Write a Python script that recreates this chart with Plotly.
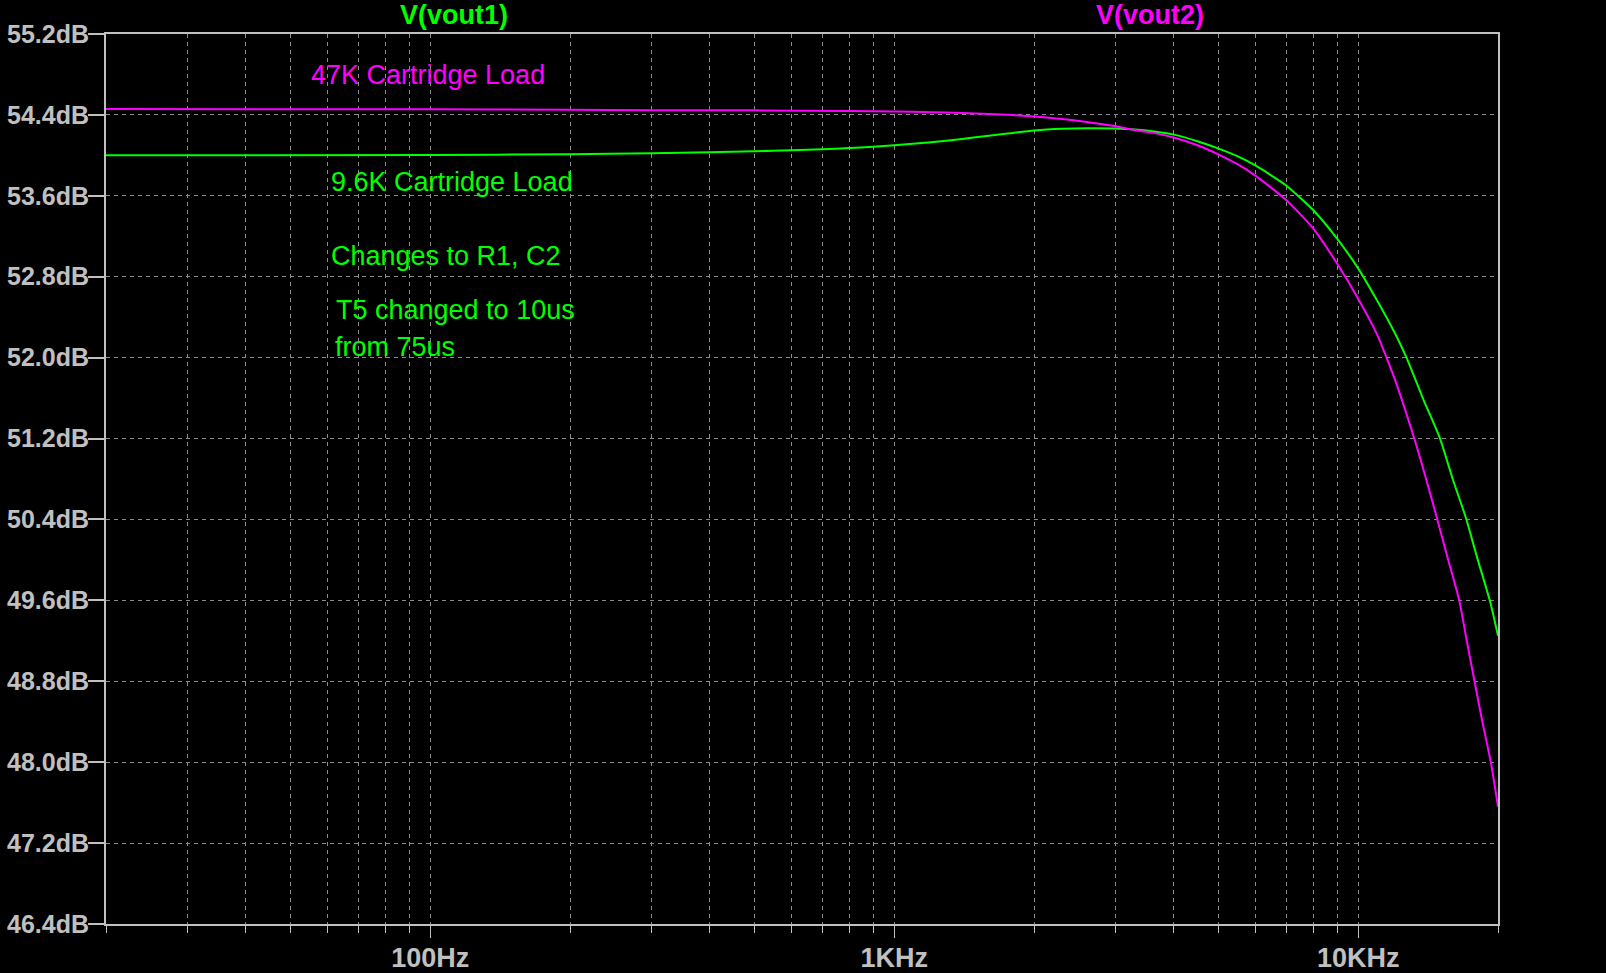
import plotly.graph_objects as go

# ---- data ----
freq_vout1 = [20, 100, 200, 300, 400, 500, 600, 700, 800, 900, 1000, 1200, 1400, 1600, 1800,
              2000, 2300, 2600, 3000, 3300, 3600, 4000, 4500, 5000, 5500, 6000, 7000, 8000,
              9000, 10000, 11000, 12000, 12700, 13800, 15000, 16000, 17100, 18000, 19200, 20000]
db_vout1 = [54.000, 54.003, 54.012, 54.022, 54.031, 54.040, 54.050, 54.060, 54.072, 54.085,
            54.100, 54.130, 54.162, 54.195, 54.222, 54.245, 54.262, 54.268, 54.265, 54.255,
            54.238, 54.205, 54.140, 54.067, 53.990, 53.900, 53.700, 53.457, 53.177, 52.880,
            52.557, 52.238, 52.000, 51.590, 51.200, 50.790, 50.400, 50.035, 49.600, 49.250]

freq_vout2 = [20, 100, 200, 300, 500, 800, 1000, 1200, 1400, 1600, 1800, 2000, 2300, 2600,
              3000, 3300, 3600, 4000, 4500, 5000, 5500, 6000, 7000, 8000, 9000, 10000, 11000,
              11500, 12000, 13200, 14000, 14800, 15600, 16500, 17100, 17800, 18500, 19300, 20000]
db_vout2 = [54.458, 54.455, 54.452, 54.446, 54.445, 54.438, 54.433, 54.427, 54.418, 54.408,
            54.398, 54.385, 54.360, 54.330, 54.287, 54.250, 54.225, 54.176, 54.100, 54.008,
            53.910, 53.800, 53.556, 53.276, 52.930, 52.580, 52.220, 52.000, 51.780, 51.200,
            50.800, 50.400, 50.010, 49.600, 49.220, 48.800, 48.405, 48.000, 47.560]

y_ticks = [46.4, 47.2, 48.0, 48.8, 49.6, 50.4, 51.2, 52.0, 52.8, 53.6, 54.4, 55.2]
y_ticktext = [f"{v:.1f}dB" for v in y_ticks]
x_major = [100, 1000, 10000]
x_major_text = ["100Hz", "1KHz", "10KHz"]
x_minor = [20, 30, 40, 50, 60, 70, 80, 90, 200, 300, 400, 500, 600, 700, 800, 900,
           2000, 3000, 4000, 5000, 6000, 7000, 8000, 9000, 20000]

trace_names = ["V(vout1)", "V(vout2)"]
notes = ["47K Cartridge Load", "9.6K Cartridge Load", "Changes to R1, C2",
         "T5 changed to 10us", "from 75us"]

# ---- style / layout ----
GREEN = "#00ff00"
MAGENTA = "#ff00ff"
AXIS = "#c0c0c0"
GRID = "#8a8a8a"
W, H = 1606, 973
L, R, T, B = 106, 1498, 34, 924
pw, ph = R - L, B - T

def px(x):
    return (x - L) / pw

def py(y):
    return (B - y) / ph

fig = go.Figure()
fig.add_trace(go.Scatter(x=freq_vout1, y=db_vout1, mode="lines", name=trace_names[0],
                         line=dict(color=GREEN, width=2, shape="spline", smoothing=0.6)))
fig.add_trace(go.Scatter(x=freq_vout2, y=db_vout2, mode="lines", name=trace_names[1],
                         line=dict(color=MAGENTA, width=2, shape="spline", smoothing=0.6)))

xtickfont = dict(family="Liberation Sans", size=27, color=AXIS, weight="bold")
ytickfont = dict(family="Liberation Sans", size=25, color=AXIS, weight="bold")

fig.update_xaxes(
    type="log", range=[1.30103, 4.30103],
    tickmode="array", tickvals=x_major, ticktext=x_major_text,
    ticks="outside", ticklen=12, tickwidth=1, tickcolor=AXIS,
    tickfont=xtickfont, ticklabelstandoff=-3,
    showline=True, linecolor=AXIS, linewidth=2, mirror=True,
    showgrid=True, gridcolor=GRID, gridwidth=1, griddash="4px,4px",
    zeroline=False, automargin=False,
    minor=dict(tickmode="array", tickvals=x_minor, ticks="outside", ticklen=7,
               tickwidth=1, tickcolor=AXIS, showgrid=True, gridcolor=GRID,
               gridwidth=1, griddash="4px,4px"),
)
fig.update_yaxes(
    range=[46.4, 55.2],
    tickmode="array", tickvals=y_ticks, ticktext=y_ticktext,
    ticks="outside", ticklen=16, tickwidth=2, tickcolor=AXIS,
    tickfont=ytickfont, ticklabelstandoff=-6,
    showline=True, linecolor=AXIS, linewidth=2, mirror=True,
    showgrid=True, gridcolor=GRID, gridwidth=1, griddash="4px,4px",
    zeroline=False, automargin=False,
)

title_font = dict(family="Liberation Sans", size=27, weight="bold")
annotations = [
    dict(text=trace_names[0], x=0.25, y=py(15), xref="paper", yref="paper",
         xanchor="center", yanchor="middle", showarrow=False,
         font=dict(color=GREEN, **title_font)),
    dict(text=trace_names[1], x=0.75, y=py(15), xref="paper", yref="paper",
         xanchor="center", yanchor="middle", showarrow=False,
         font=dict(color=MAGENTA, **title_font)),
]
note_pos = [(309, 75, MAGENTA), (329, 182, GREEN), (329, 256, GREEN),
            (334, 310, GREEN), (333, 347, GREEN)]
for txt, (nx, ny, col) in zip(notes, note_pos):
    annotations.append(dict(text=txt, x=px(nx), y=py(ny), xref="paper", yref="paper",
                            xanchor="left", yanchor="middle", showarrow=False,
                            font=dict(family="Liberation Sans", size=27, color=col)))

fig.update_layout(
    width=W, height=H,
    margin=dict(l=L, r=W - R, t=T, b=H - B, pad=0, autoexpand=False),
    paper_bgcolor="black", plot_bgcolor="black",
    showlegend=False,
    annotations=annotations,
)

fig.write_html("out.html",
               config={"displayModeBar": False},
               post_script="document.body.style.margin='0';"
                           "document.body.style.background='#000';"
                           "document.body.style.overflow='hidden';")
